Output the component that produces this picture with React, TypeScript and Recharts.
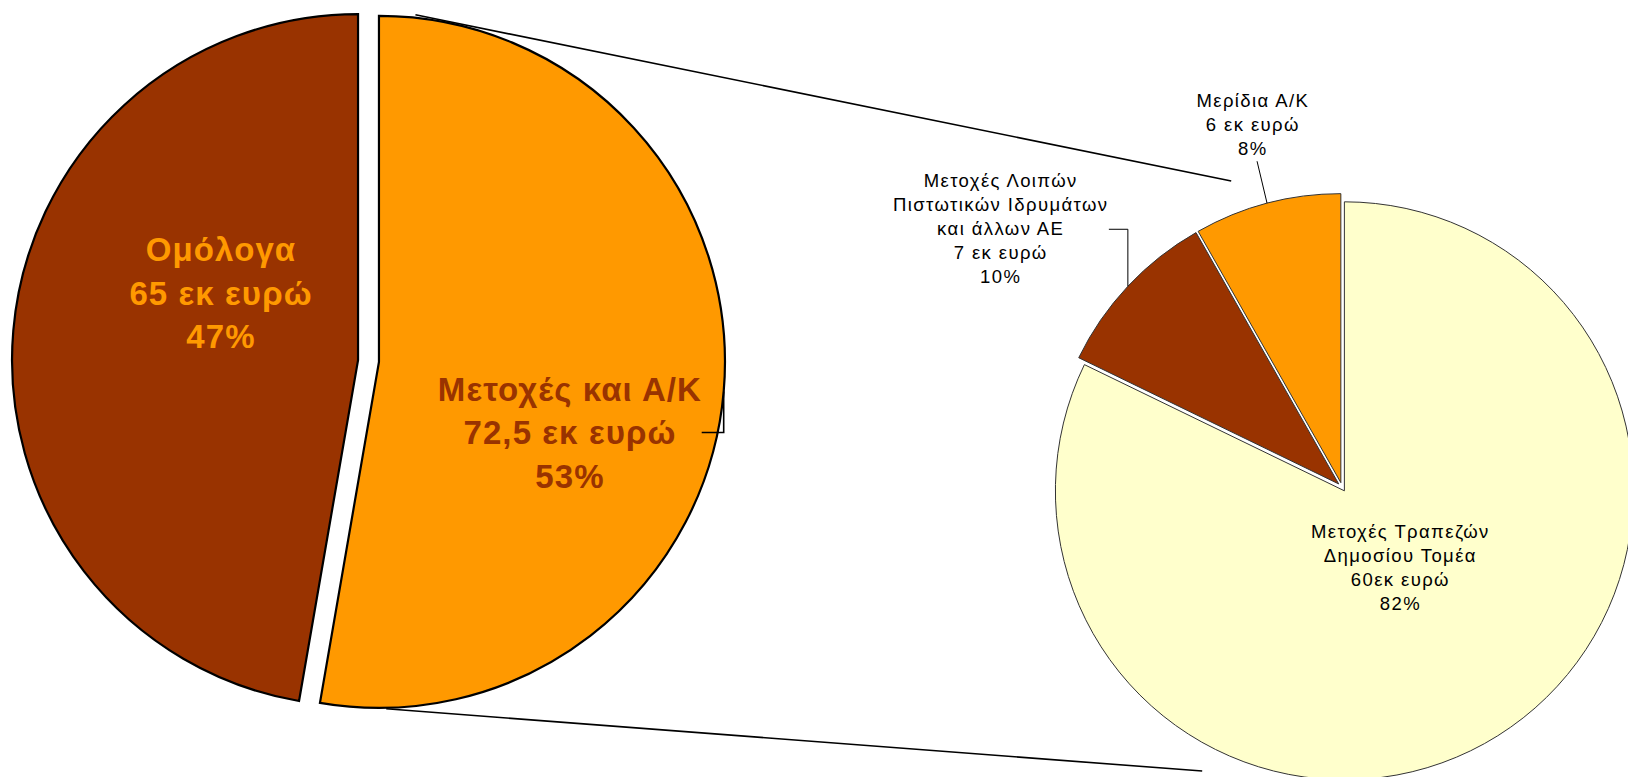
import React from "react";
import { PieChart, Pie, Cell, Customized } from "recharts";

// κύρια πίτα: μετοχές / ομόλογα
const mainNames = [["Μετοχές και Α/Κ"], ["Ομόλογα"]];
const mainValues = [72.5, 65];
const mainValueText = ["72,5 εκ ευρώ", "65 εκ ευρώ"];

// ανάλυση του κομματιού "Μετοχές και Α/Κ"
const subNames = [
  ["Μετοχές Τραπεζών", "Δημοσίου Τομέα"],
  ["Μετοχές Λοιπών", "Πιστωτικών Ιδρυμάτων", "και άλλων ΑΕ"],
  ["Μερίδια Α/Κ"],
];
const subValues = [60, 7, 6];
const subValueText = ["60εκ ευρώ", "7 εκ ευρώ", "6 εκ ευρώ"];

const BROWN = "#993300";
const ORANGE = "#FF9900";
const YELLOW = "#FFFFCC";
const FONT = "'Liberation Sans', Arial, sans-serif";

const mainColors = [ORANGE, BROWN];
const mainTextColors = [BROWN, ORANGE];
const subColors = [YELLOW, BROWN, ORANGE];

const W = 1628;
const H = 777;
const MAIN = { cx: 368.5, cy: 361, r: 346, explode: 10.5 };
const SUB = { cx: 1342, cy: 487, r: 289, explode: 4.5 };

// θέση ετικέτας (πρώτη γραμμή) ως προς το κέντρο κάθε κομματιού
const mainLabelPos = [{ dx: 191, dy: 39 }, { dx: -137, dy: -99 }];
const subLabelPos = [{ dx: 56, dy: 47 }, { dx: -338, dy: -297 }, { dx: -88, dy: -376 }];
// γραμμές οδηγοί: σημεία σχετικά με το σημείο του τόξου στη μέση γωνία
const mainLeaders = [[[0, 41], [-22, 41]], null];
const subLeaders = [null, [[0, -57], [-19, -57]], [[-10, -42]]];

const RAD = Math.PI / 180;
const polar = (cx: number, cy: number, r: number, a: number) => ({
  x: cx + r * Math.cos(-a * RAD),
  y: cy + r * Math.sin(-a * RAD),
});

function midAngles(values: number[]) {
  const total = values.reduce((s, v) => s + v, 0);
  let acc = 0;
  return values.map((v) => {
    const start = 90 - (acc / total) * 360;
    acc += v;
    const end = 90 - (acc / total) * 360;
    return (start + end) / 2;
  });
}

const mainMid = midAngles(mainValues);
const subMid = midAngles(subValues);
const mainCenters = mainMid.map((a) => polar(MAIN.cx, MAIN.cy, MAIN.explode, a));
const subCenters = subMid.map((a) => polar(SUB.cx, SUB.cy, SUB.explode, a));

const mainData = mainNames.map((n, i) => ({ name: n.join(" "), value: mainValues[i] }));
const subData = subNames.map((n, i) => ({ name: n.join(" "), value: subValues[i] }));

interface LabelOpts {
  visible: number;
  names: string[][];
  valueText: string[];
  pos: { dx: number; dy: number }[];
  leaders: (number[][] | null)[];
  color: string[];
  size: number;
  weight: string;
  spacing: number;
  lineH: number;
  leaderWidth: number;
}

function makeLabel(o: LabelOpts) {
  return (p: any) => {
    if (p.index !== o.visible) return null;
    const i = p.index;
    const lines = [...o.names[i], o.valueText[i], `${Math.round(p.percent * 100)}%`];
    const x = p.cx + o.pos[i].dx;
    const y0 = p.cy + o.pos[i].dy;
    const leader = o.leaders[i];
    let line = null;
    if (leader) {
      const a = polar(p.cx, p.cy, p.outerRadius, p.midAngle);
      const pts = [a, ...leader.map(([dx, dy]) => ({ x: a.x + dx, y: a.y + dy }))];
      line = (
        <polyline
          points={pts.map((q) => `${q.x},${q.y}`).join(" ")}
          fill="none"
          stroke="#000"
          strokeWidth={o.leaderWidth}
        />
      );
    }
    return (
      <g>
        {line}
        <text
          textAnchor="middle"
          fill={o.color[i]}
          fontSize={o.size}
          fontWeight={o.weight}
          fontFamily={FONT}
          letterSpacing={o.spacing}
        >
          {lines.map((l, k) => (
            <tspan key={k} x={x} y={y0 + k * o.lineH}>
              {l}
            </tspan>
          ))}
        </text>
      </g>
    );
  };
}

// γραμμές που ενώνουν τις δύο πίτες
function Connectors() {
  const oc = mainCenters[0];
  const lines = [
    [polar(oc.x, oc.y, MAIN.r + 3, 84), polar(SUB.cx, SUB.cy, 325.5, 109.9)],
    [polar(oc.x, oc.y, MAIN.r + 1, -88.8), polar(SUB.cx, SUB.cy, 316.6, -116.2)],
  ];
  return (
    <g>
      {lines.map(([a, b], i) => (
        <line key={i} x1={a.x} y1={a.y} x2={b.x} y2={b.y} stroke="#000" strokeWidth={1.6} />
      ))}
    </g>
  );
}

export default function App() {
  return (
    <div style={{ width: W, height: H, background: "#fff" }}>
      <style>{"body{margin:0}"}</style>
      <PieChart width={W} height={H} margin={{ top: 0, right: 0, bottom: 0, left: 0 }}>
        {mainData.map((_, vis) => (
          <Pie
            key={`m${vis}`}
            data={mainData}
            dataKey="value"
            nameKey="name"
            cx={mainCenters[vis].x}
            cy={mainCenters[vis].y}
            outerRadius={MAIN.r}
            startAngle={90}
            endAngle={-270}
            isAnimationActive={false}
            labelLine={false}
            label={makeLabel({
              visible: vis,
              names: mainNames,
              valueText: mainValueText,
              pos: mainLabelPos,
              leaders: mainLeaders,
              color: mainTextColors,
              size: 33,
              weight: "bold",
              spacing: 1.1,
              lineH: 43.5,
              leaderWidth: 1.6,
            })}
          >
            {mainData.map((_, i) => (
              <Cell
                key={i}
                fill={i === vis ? mainColors[i] : "none"}
                stroke={i === vis ? "#000" : "none"}
                strokeWidth={2.2}
              />
            ))}
          </Pie>
        ))}
        {subData.map((_, vis) => (
          <Pie
            key={`s${vis}`}
            data={subData}
            dataKey="value"
            nameKey="name"
            cx={subCenters[vis].x}
            cy={subCenters[vis].y}
            outerRadius={SUB.r}
            startAngle={90}
            endAngle={-270}
            isAnimationActive={false}
            labelLine={false}
            label={makeLabel({
              visible: vis,
              names: subNames,
              valueText: subValueText,
              pos: subLabelPos,
              leaders: subLeaders,
              color: ["#000", "#000", "#000"],
              size: 18.5,
              weight: "normal",
              spacing: 1.4,
              lineH: 24,
              leaderWidth: 1,
            })}
          >
            {subData.map((_, i) => (
              <Cell
                key={i}
                fill={i === vis ? subColors[i] : "none"}
                stroke={i === vis ? "#333" : "none"}
                strokeWidth={1}
              />
            ))}
          </Pie>
        ))}
        <Customized component={<Connectors />} />
      </PieChart>
    </div>
  );
}
